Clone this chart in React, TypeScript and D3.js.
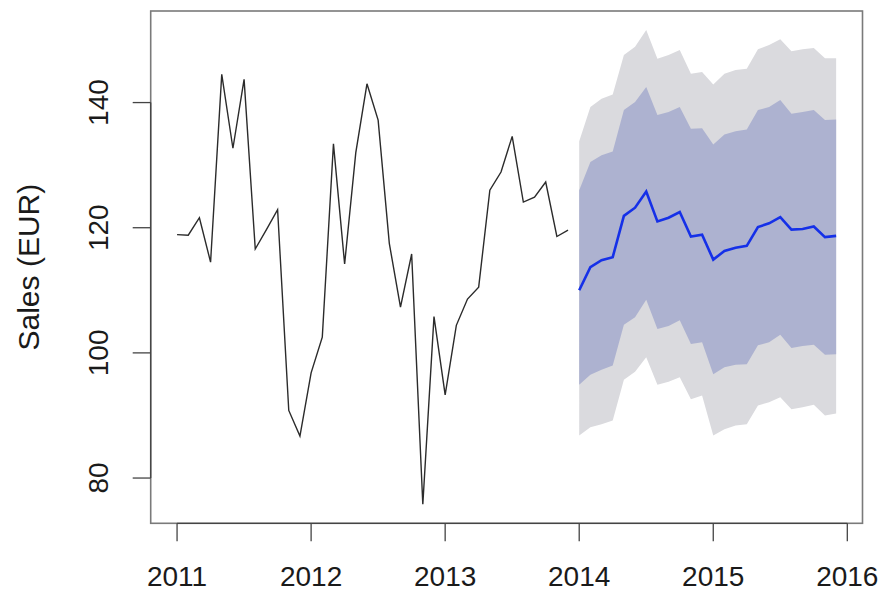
import * as d3 from "d3";
import { useEffect, useRef } from "react";

// monthly sales, Jan 2011 - Dec 2013
const histStart = 2011;
const sales = [
  118.9, 118.8, 121.6, 114.5, 144.5, 132.7, 143.7, 116.6, 119.7, 122.9, 90.8, 86.7,
  96.8, 102.5, 133.4, 114.2, 132.0, 143.0, 137.2, 117.5, 107.3, 115.8, 75.8, 105.8,
  93.3, 104.4, 108.6, 110.5, 126.0, 128.9, 134.6, 124.1, 124.9, 127.3, 118.6, 119.6,
];

// forecast, Jan 2014 - Dec 2015
const fcStart = 2014;
const fcMean = [
  110.0, 113.7, 114.8, 115.3, 121.9, 123.2, 125.8, 121.0, 121.6, 122.5, 118.6, 118.9,
  114.9, 116.3, 116.8, 117.1, 120.1, 120.7, 121.7, 119.7, 119.8, 120.2, 118.5, 118.7,
];
const hi80 = [
  126.0, 130.5, 131.6, 132.2, 138.8, 140.1, 142.5, 138.0, 138.5, 139.3, 135.8, 135.9,
  133.3, 134.9, 135.4, 135.7, 138.8, 139.3, 140.4, 138.2, 138.5, 138.8, 137.2, 137.3,
];
const lo80 = [
  94.9, 96.5, 97.3, 98.0, 104.5, 105.7, 108.5, 103.8, 104.3, 105.2, 101.4, 101.7,
  96.6, 97.7, 98.1, 98.2, 101.2, 101.7, 102.9, 100.8, 101.1, 101.3, 99.7, 99.8,
];
const hi95 = [
  133.8, 139.3, 140.6, 141.3, 147.6, 148.9, 151.6, 147.0, 147.6, 148.4, 144.6, 144.9,
  142.9, 144.6, 145.2, 145.4, 148.5, 149.2, 150.1, 148.2, 148.5, 148.7, 147.1, 147.1,
];
const lo95 = [
  86.8, 88.1, 88.6, 89.2, 95.7, 97.0, 99.3, 94.9, 95.4, 96.1, 92.6, 93.2,
  86.8, 87.8, 88.4, 88.6, 91.6, 92.1, 92.9, 91.0, 91.3, 91.7, 90.0, 90.3,
];

const xTicks = [2011, 2012, 2013, 2014, 2015, 2016];
const yTicks = [80, 100, 120, 140];
const yLabel = "Sales (EUR)";

export default function App() {
  const ref = useRef<SVGSVGElement>(null);

  useEffect(() => {
    if (!ref.current) return;
    const svg = d3.select(ref.current);
    svg.selectAll("*").remove();

    const W = 883;
    const H = 593;
    const box = { left: 150.7, right: 862.5, top: 11, bottom: 523.3 };

    const t = (start: number, i: number) => start + i / 12;

    // R style: 4% padding on data range
    const xmin = histStart;
    const xmax = t(fcStart, fcMean.length - 1);
    const xpad = 0.04 * (xmax - xmin);
    const x = d3
      .scaleLinear()
      .domain([xmin - xpad, xmax + xpad])
      .range([box.left, box.right]);

    const all = [...sales, ...hi95, ...lo95];
    const ymin = d3.min(all)!;
    const ymax = d3.max(all)!;
    const ypad = 0.04 * (ymax - ymin);
    const y = d3
      .scaleLinear()
      .domain([ymin - ypad, ymax + ypad])
      .range([box.bottom, box.top]);

    svg.attr("width", W).attr("height", H).attr("viewBox", `0 0 ${W} ${H}`);

    const font = "'Liberation Sans', Arial, Helvetica, sans-serif";

    // prediction bands
    const band = (lo: number[], hi: number[]) =>
      d3
        .area<number>()
        .x((_, i) => x(t(fcStart, i)))
        .y0((_, i) => y(lo[i]))
        .y1((_, i) => y(hi[i]))(lo.map((d) => d));

    svg.append("path").attr("d", band(lo95, hi95)!).attr("fill", "#dadade");
    svg.append("path").attr("d", band(lo80, hi80)!).attr("fill", "#adb2d0");

    // observed series
    const line = d3
      .line<number>()
      .x((_, i) => x(t(histStart, i)))
      .y((d) => y(d));
    svg
      .append("path")
      .attr("d", line(sales)!)
      .attr("fill", "none")
      .attr("stroke", "#2b2b2b")
      .attr("stroke-width", 1.4);

    // point forecast
    const fline = d3
      .line<number>()
      .x((_, i) => x(t(fcStart, i)))
      .y((d) => y(d));
    svg
      .append("path")
      .attr("d", fline(fcMean)!)
      .attr("fill", "none")
      .attr("stroke", "#1530e8")
      .attr("stroke-width", 2.6);

    // frame
    svg
      .append("rect")
      .attr("x", box.left)
      .attr("y", box.top)
      .attr("width", box.right - box.left)
      .attr("height", box.bottom - box.top)
      .attr("fill", "none")
      .attr("stroke", "#7a7a7a")
      .attr("stroke-width", 1.6);

    const tickLen = 18;

    // x axis
    const gx = svg.append("g");
    gx.append("line")
      .attr("x1", x(xTicks[0]))
      .attr("x2", x(xTicks[xTicks.length - 1]))
      .attr("y1", box.bottom)
      .attr("y2", box.bottom)
      .attr("stroke", "#444")
      .attr("stroke-width", 1.3);
    xTicks.forEach((v) => {
      gx.append("line")
        .attr("x1", x(v))
        .attr("x2", x(v))
        .attr("y1", box.bottom)
        .attr("y2", box.bottom + tickLen)
        .attr("stroke", "#444")
        .attr("stroke-width", 1.3);
      gx.append("text")
        .attr("x", x(v))
        .attr("y", 586)
        .attr("text-anchor", "middle")
        .attr("font-family", font)
        .attr("font-size", 28)
        .attr("fill", "#1a1a1a")
        .text(String(v));
    });

    // y axis
    const gy = svg.append("g");
    gy.append("line")
      .attr("x1", box.left)
      .attr("x2", box.left)
      .attr("y1", y(yTicks[0]))
      .attr("y2", y(yTicks[yTicks.length - 1]))
      .attr("stroke", "#444")
      .attr("stroke-width", 1.3);
    yTicks.forEach((v) => {
      gy.append("line")
        .attr("x1", box.left - tickLen)
        .attr("x2", box.left)
        .attr("y1", y(v))
        .attr("y2", y(v))
        .attr("stroke", "#444")
        .attr("stroke-width", 1.3);
      gy.append("text")
        .attr("transform", `translate(108,${y(v)}) rotate(-90)`)
        .attr("text-anchor", "middle")
        .attr("font-family", font)
        .attr("font-size", 28)
        .attr("fill", "#1a1a1a")
        .text(String(v));
    });

    svg
      .append("text")
      .attr("transform", `translate(39,${(box.top + box.bottom) / 2}) rotate(-90)`)
      .attr("text-anchor", "middle")
      .attr("font-family", font)
      .attr("font-size", 30)
      .attr("fill", "#1a1a1a")
      .text(yLabel);
  }, []);

  return (
    <div style={{ position: "absolute", left: 0, top: 0, background: "#fff" }}>
      <svg ref={ref} style={{ display: "block" }}></svg>
    </div>
  );
}
